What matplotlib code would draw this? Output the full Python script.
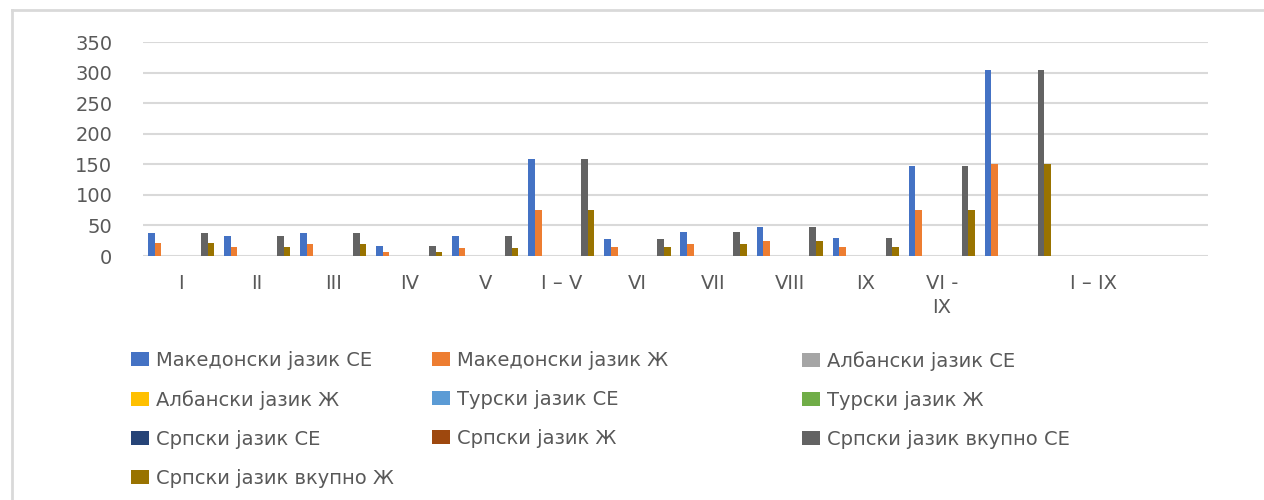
import numpy as np
import matplotlib
matplotlib.use("Agg")
import matplotlib.pyplot as plt
from matplotlib.lines import Line2D

plt.rcParams['font.family'] = ['DejaVu Sans']

categories = ['I', 'II', 'III', 'IV', 'V', 'I – V', 'VI', 'VII', 'VIII', 'IX',
              'VI -\nIX', '', 'I – IX', '']
nan = np.nan
mac_ce = [38, 33, 38, 16, 32, 158, 28, 39, 48, 29, 147, 305, nan, nan]
mac_zh = [22, 15, 19, 6, 13, 75, 14, 19, 25, 14, 75, 150, nan, nan]
alb_ce = [nan] * 14
alb_zh = [nan] * 14
tur_ce = [nan] * 14
tur_zh = [nan] * 14
srp_ce = [nan] * 14
srp_zh = [nan] * 14
srp_vk_ce = [38, 33, 38, 16, 32, 158, 28, 39, 48, 29, 147, 305, nan, nan]
srp_vk_zh = [22, 15, 19, 6, 13, 75, 14, 19, 25, 14, 75, 150, nan, nan]

series_names = ['Македонски јазик СЕ', 'Македонски јазик Ж', 'Албански јазик СЕ',
                'Албански јазик Ж', 'Турски јазик СЕ', 'Турски јазик Ж',
                'Српски јазик СЕ', 'Српски јазик Ж', 'Српски јазик вкупно СЕ',
                'Српски јазик вкупно Ж']
series_values = [mac_ce, mac_zh, alb_ce, alb_zh, tur_ce, tur_zh, srp_ce, srp_zh,
                 srp_vk_ce, srp_vk_zh]
colors = ['#4472C4', '#ED7D31', '#A5A5A5', '#FFC000', '#5B9BD5', '#70AD47',
          '#264478', '#9E480E', '#636363', '#997300']
yticks = [0, 50, 100, 150, 200, 250, 300, 350]

W, H = 1264, 500
fig = plt.figure(figsize=(W / 100, H / 100), dpi=100)
ax = fig.add_axes([143 / W, 1 - 256 / H, (1208 - 143) / W, (256 - 42) / H])

n = len(series_values)
slot = 0.87 / n
x = np.arange(len(categories))
bars = []
for i, (vals, c, name) in enumerate(zip(series_values, colors, series_names)):
    b = ax.bar(x + (i - (n - 1) / 2) * slot, vals, width=slot, color=c,
               label=name, zorder=3, linewidth=0)
    bars.append(b)

ax.set_xlim(-0.5, len(categories) - 0.5)
ax.set_ylim(0, 350)
ax.set_yticks(yticks)
ax.set_xticks(x)
ax.set_xticklabels(categories, fontsize=14, color='#595959', linespacing=1.35)
ax.tick_params(axis='y', labelsize=14, labelcolor='#595959', length=0, pad=22)
ax.tick_params(axis='x', length=0, pad=13)
ax.grid(axis='y', color='#d9d9d9', linewidth=1.5, zorder=0)
for s in ax.spines.values():
    s.set_visible(False)

# legend: three columns placed as in the reference
col_idx = [[0, 3, 6, 9], [1, 4, 7], [2, 5, 8]]
col_x = [131, 432, 802]
for cols, cx in zip(col_idx, col_x):
    fig.legend([bars[i] for i in cols], [series_names[i] for i in cols],
               loc='upper left', bbox_to_anchor=(cx / W, 1 - 351 / H),
               frameon=False, fontsize=14, labelcolor='#595959',
               handlelength=0.9, handleheight=0.7, handletextpad=0.4,
               labelspacing=1.03, borderaxespad=0, borderpad=0)

# chart frame (top and left edges visible)
fig.add_artist(Line2D([12 / W, 1], [1 - 10 / H, 1 - 10 / H], color='#d9d9d9',
                      linewidth=2, transform=fig.transFigure))
fig.add_artist(Line2D([12 / W, 12 / W], [0, 1 - 10 / H], color='#d9d9d9',
                      linewidth=2, transform=fig.transFigure))

fig.savefig('out.png', dpi=100)
